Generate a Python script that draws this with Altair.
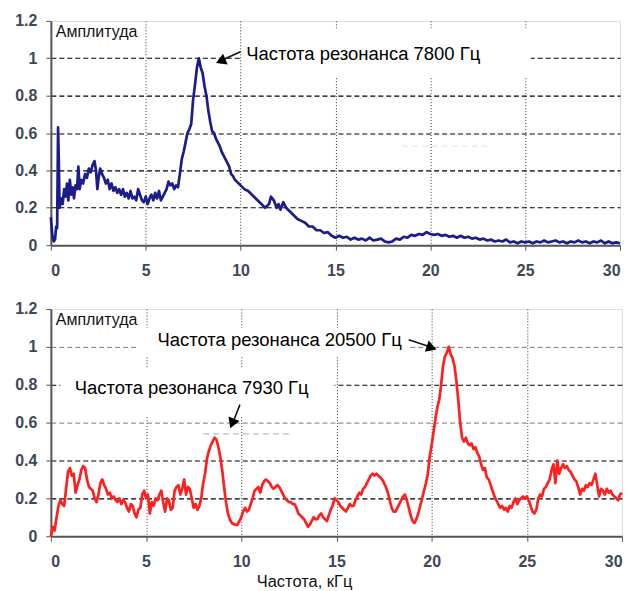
import altair as alt
import pandas as pd

# ---------------- data ----------------
top_x = [0.0, 0.08, 0.15, 0.22, 0.28, 0.33, 0.38, 0.42, 0.46, 0.55, 0.62, 0.7, 0.78, 0.85, 0.92, 1.0, 1.08, 1.15, 1.22, 1.3,
         1.38, 1.45, 1.52, 1.6, 1.7, 1.8, 1.9, 2.0, 2.1, 2.2, 2.3, 2.38, 2.45, 2.52, 2.6, 2.7, 2.8, 2.9, 3.0, 3.1,
         3.2, 3.3, 3.4, 3.5, 3.6, 3.7, 3.8, 3.9, 4.0, 4.1, 4.2, 4.3, 4.4, 4.5, 4.6, 4.7, 4.8, 4.9, 5.0, 5.1,
         5.2, 5.3, 5.4, 5.5, 5.6, 5.7, 5.8, 5.9, 6.0, 6.1, 6.2, 6.3, 6.4, 6.5, 6.6, 6.7, 6.8, 6.9, 7.0, 7.1,
         7.2, 7.3, 7.4, 7.5, 7.6, 7.7, 7.8, 7.9, 8.0, 8.1, 8.2, 8.3, 8.4, 8.5, 8.6, 8.7, 8.8, 8.9, 9.0, 9.1,
         9.2, 9.3, 9.4, 9.5, 9.6, 9.7, 9.8, 9.9, 10.0, 10.2, 10.4, 10.6, 10.8, 11.0, 11.2, 11.3, 11.5, 11.6, 11.75, 11.9,
         12.0, 12.1, 12.25, 12.4, 12.6, 12.8, 13.0, 13.2, 13.4, 13.6, 13.8, 14.0, 14.2, 14.4, 14.6, 14.8, 15.0, 15.2, 15.4, 15.6,
         15.8, 16.0, 16.2, 16.4, 16.6, 16.8, 17.0, 17.2, 17.4, 17.6, 17.8, 18.0, 18.2, 18.4, 18.6, 18.8, 19.0, 19.2, 19.4, 19.6,
         19.8, 20.0, 20.2, 20.4, 20.6, 20.8, 21.0, 21.2, 21.4, 21.6, 21.8, 22.0, 22.2, 22.4, 22.6, 22.8, 23.0, 23.2, 23.4, 23.6,
         23.8, 24.0, 24.2, 24.4, 24.6, 24.8, 25.0, 25.2, 25.4, 25.6, 25.8, 26.0, 26.2, 26.4, 26.6, 26.8, 27.0, 27.2, 27.4, 27.6,
         27.8, 28.0, 28.2, 28.4, 28.6, 28.8, 29.0, 29.2, 29.4, 29.6, 29.8, 30.0]
top_y = [0.15, 0.05, 0.02, 0.03, 0.1, 0.09, 0.63, 0.45, 0.2, 0.25, 0.22, 0.3, 0.26, 0.33, 0.24, 0.35, 0.27, 0.31, 0.25, 0.32,
         0.3, 0.42, 0.3, 0.35, 0.33, 0.38, 0.36, 0.41, 0.39, 0.43, 0.45, 0.4, 0.3, 0.36, 0.41, 0.38, 0.36, 0.33, 0.35, 0.3,
         0.33, 0.29, 0.31, 0.28, 0.3, 0.27, 0.3, 0.26, 0.28, 0.25, 0.29, 0.25, 0.26, 0.24, 0.3, 0.27, 0.24, 0.23, 0.26, 0.22,
         0.25, 0.27, 0.24, 0.28, 0.25, 0.29, 0.24, 0.26, 0.28, 0.3, 0.34, 0.32, 0.33, 0.3, 0.32, 0.31, 0.38, 0.46, 0.5, 0.55,
         0.6, 0.62, 0.65, 0.78, 0.86, 0.95, 1.0, 0.95, 0.92, 0.85, 0.8, 0.72, 0.66, 0.61, 0.6, 0.57, 0.55, 0.53, 0.5, 0.48,
         0.46, 0.44, 0.42, 0.38, 0.37, 0.35, 0.34, 0.33, 0.32, 0.3, 0.29, 0.27, 0.25, 0.23, 0.21, 0.2, 0.22, 0.26, 0.24, 0.2,
         0.22, 0.19, 0.23, 0.2, 0.18, 0.16, 0.14, 0.13, 0.12, 0.1, 0.1, 0.08, 0.08, 0.065, 0.07, 0.05, 0.04, 0.05, 0.04, 0.045,
         0.03, 0.04, 0.03, 0.035, 0.025, 0.04, 0.025, 0.03, 0.035, 0.02, 0.015, 0.02, 0.035, 0.03, 0.045, 0.04, 0.055, 0.05, 0.06, 0.055,
         0.07, 0.06, 0.055, 0.06, 0.05, 0.055, 0.045, 0.05, 0.04, 0.05, 0.04, 0.045, 0.035, 0.04, 0.03, 0.035, 0.025, 0.03, 0.02, 0.025,
         0.02, 0.03, 0.015, 0.02, 0.01, 0.02, 0.015, 0.02, 0.01, 0.02, 0.015, 0.025, 0.015, 0.02, 0.025, 0.015, 0.02, 0.01, 0.02, 0.015,
         0.025, 0.015, 0.02, 0.01, 0.02, 0.015, 0.025, 0.01, 0.02, 0.01, 0.015, 0.01]

bot_x = [round(i * 0.1, 1) for i in range(301)]
bot_y = [0.0, 0.05, 0.03, 0.1, 0.16, 0.19, 0.17, 0.16, 0.25, 0.34, 0.36, 0.32, 0.33, 0.23, 0.27, 0.3, 0.35, 0.37, 0.36, 0.3,
         0.26, 0.25, 0.24, 0.2, 0.18, 0.22, 0.28, 0.3, 0.27, 0.25, 0.22, 0.23, 0.2, 0.21, 0.19, 0.18, 0.2, 0.17, 0.19, 0.18,
         0.15, 0.13, 0.17, 0.16, 0.12, 0.1, 0.14, 0.15, 0.22, 0.24, 0.2, 0.22, 0.12, 0.18, 0.16, 0.2, 0.19, 0.22, 0.24, 0.18,
         0.13, 0.2, 0.19, 0.14, 0.15, 0.24, 0.26, 0.27, 0.22, 0.25, 0.3, 0.22, 0.26, 0.25, 0.2, 0.15, 0.17, 0.14, 0.16, 0.2,
         0.28, 0.33, 0.41, 0.45, 0.48, 0.5, 0.52, 0.51, 0.47, 0.42, 0.35, 0.26, 0.18, 0.12, 0.09, 0.07, 0.065, 0.06, 0.06, 0.08,
         0.1, 0.13, 0.15, 0.13, 0.14, 0.17, 0.2, 0.24, 0.25, 0.26, 0.23, 0.27, 0.29, 0.3, 0.29, 0.28, 0.26, 0.25, 0.26, 0.27,
         0.26, 0.24, 0.22, 0.2, 0.19, 0.18, 0.18, 0.17, 0.17, 0.15, 0.12, 0.11, 0.1, 0.09, 0.07, 0.05, 0.06, 0.08, 0.1, 0.09,
         0.09, 0.11, 0.12, 0.1, 0.09, 0.08, 0.11, 0.14, 0.16, 0.2, 0.19, 0.18, 0.16, 0.15, 0.14, 0.13, 0.15, 0.17, 0.16, 0.16,
         0.19, 0.21, 0.23, 0.22, 0.25, 0.26, 0.28, 0.3, 0.32, 0.33, 0.32, 0.33, 0.32, 0.31, 0.3, 0.28, 0.26, 0.23, 0.19, 0.15,
         0.13, 0.13, 0.15, 0.17, 0.19, 0.21, 0.22, 0.19, 0.15, 0.11, 0.08, 0.07, 0.09, 0.12, 0.16, 0.2, 0.24, 0.28, 0.33, 0.42,
         0.48, 0.55, 0.62, 0.68, 0.72, 0.8, 0.9, 0.95, 0.97, 1.0, 0.96, 0.94, 0.9, 0.82, 0.72, 0.6, 0.52, 0.5, 0.52, 0.49,
         0.48, 0.49, 0.46, 0.47, 0.44, 0.42, 0.38, 0.35, 0.36, 0.31, 0.3, 0.27, 0.24, 0.21, 0.19, 0.17, 0.15, 0.16, 0.14, 0.15,
         0.13, 0.16, 0.15, 0.18, 0.2, 0.17, 0.19, 0.2, 0.21, 0.2, 0.21, 0.19, 0.16, 0.13, 0.12, 0.14, 0.2, 0.22, 0.21, 0.25,
         0.26, 0.28, 0.3, 0.35, 0.38, 0.28, 0.4, 0.33, 0.36, 0.38, 0.36, 0.37, 0.35, 0.34, 0.32, 0.3, 0.29, 0.26, 0.22, 0.25,
         0.24, 0.27, 0.26, 0.28, 0.27, 0.3, 0.33, 0.27, 0.21, 0.25, 0.24, 0.22, 0.25, 0.23, 0.24, 0.22, 0.21, 0.2, 0.19, 0.22,
         0.23]

y_ticks = [0, 0.2, 0.4, 0.6, 0.8, 1.0, 1.2]
x_ticks = [0, 5, 10, 15, 20, 25, 30]

y_label = "Амплитуда"
x_title = "Частота, кГц"

# annotations (data coordinates)
top_notes = pd.DataFrame({"x": [10.3], "y": [1.025], "t": ["Частота резонанса 7800 Гц"]})
top_boxes = pd.DataFrame({"x": [10.1], "x2": [25.3], "y": [0.9], "y2": [1.16]})
top_arrow = pd.DataFrame({"x": [10.0], "y": [1.035], "x2": [9.0], "y2": [0.99]})
top_head = pd.DataFrame({"x": [8.95], "y": [0.985], "a": [247]})
top_faint = pd.DataFrame({"x": [18.5], "x2": [23.2], "y": [0.53]})

bot_notes = pd.DataFrame({"x": [5.6, 1.25], "y": [1.037, 0.784],
                          "t": ["Частота резонанса 20500 Гц", "Частота резонанса 7930 Гц"]})
bot_boxes = pd.DataFrame({"x": [4.6, 0.5], "x2": [18.7, 14.9], "y": [0.95, 0.63], "y2": [1.1, 0.89]})
bot_arrow = pd.DataFrame({"x": [18.8, 9.93], "y": [1.037, 0.695], "x2": [19.9, 9.6], "y2": [1.0, 0.61]})
bot_head = pd.DataFrame({"x": [20.0, 9.52], "y": [0.995, 0.595], "a": [109, 202]})
bot_faint = pd.DataFrame({"x": [8.0], "x2": [12.6], "y": [0.54]})

FONT = "Liberation Sans"


def panel(xs, ys, color, boxes, notes, arrow, head, faint, faint_color, w, h, show_title, light_test):
    df = pd.DataFrame({"x": xs, "y": ys})
    xscale = alt.Scale(domain=[0, 30], nice=False, zero=False)
    yscale = alt.Scale(domain=[0, 1.2], nice=False)
    xaxis = alt.Axis(
        values=x_ticks, format="~g", title=x_title if show_title else None, labelOverlap=False,
        grid=True, gridDash=[1, 2], gridColor="#333", gridWidth=1,
        gridOpacity={"condition": {"test": "datum.value == 0 || datum.value == 30", "value": 0}, "value": 1},
        labelPadding=12, labelFontSize=16, labelFontWeight="bold", labelColor="#3e4756",
        labelFont=FONT, tickSize=5, tickColor="#555", domainColor="#555", domainWidth=2,
        titleFont=FONT, titleFontSize=16.5, titleFontWeight="normal", titleColor="#111",
        titleX=254, titleY=50, titleBaseline="alphabetic", titleAlign="center",
    )
    yaxis = alt.Axis(
        values=y_ticks, format="~g", title=None, labelOverlap=False,
        grid=True, gridDash=[5, 3],
        gridColor={"condition": {"test": light_test, "value": "#555"}, "value": "#000"},
        gridWidth={"condition": {"test": light_test, "value": 0.8}, "value": 1.1},
        gridOpacity={"condition": {"test": "datum.value == 0 || datum.value > 1.1", "value": 0}, "value": 1},
        labelPadding=9, labelFontSize=16, labelFontWeight="bold", labelColor="#3e4756",
        labelFont=FONT, tickSize=5, tickColor="#555", domainColor="#555", domainWidth=2,
        minExtent=42, maxExtent=42,
    )

    def X(f="x:Q"):
        return alt.X(f, scale=xscale, axis=xaxis)

    def Y(f="y:Q"):
        return alt.Y(f, scale=yscale, axis=yaxis)

    box_layer = alt.Chart(boxes).mark_rect(color="white").encode(x=X(), x2="x2", y=Y(), y2="y2")
    faint_layer = alt.Chart(faint).mark_rule(color=faint_color, strokeDash=[6, 4], strokeWidth=1.2).encode(
        x=X(), x2="x2", y=Y())
    line = alt.Chart(df).mark_line(color=color, strokeWidth=2.7, strokeJoin="round").encode(x=X(), y=Y())
    arr = alt.Chart(arrow).mark_rule(color="#111", strokeWidth=1.6).encode(x=X(), x2="x2", y=Y(), y2="y2")
    hd = alt.Chart(head).mark_point(shape="triangle-up", filled=True, color="#000", size=140, opacity=1).encode(
        x=X(), y=Y(), angle=alt.Angle("a:Q", scale=None))
    txt = alt.Chart(notes).mark_text(align="left", baseline="middle", font=FONT, fontSize=18.5, color="#000").encode(
        x=X(), y=Y(), text="t:N")
    amp = alt.Chart(pd.DataFrame({"t": [y_label]})).mark_text(
        align="left", baseline="top", font=FONT, fontSize=16, color="#111").encode(
        x=alt.value(5), y=alt.value(3), text="t:N")
    return alt.layer(box_layer, faint_layer, line, arr, hd, txt, amp).properties(width=w, height=h)


top = panel(top_x, top_y, "#1c1c8a", top_boxes, top_notes, top_arrow, top_head, top_faint, "#e6e6e6",
            571, 225, False, "false")
bottom = panel(bot_x, bot_y, "#ff1f1f", bot_boxes, bot_notes, bot_arrow, bot_head, bot_faint, "#bbbbbb",
               573, 228, True, "datum.value == 1 || datum.value == 0.6")

chart = alt.vconcat(top, bottom, spacing=21).properties(
    padding={"left": 0, "top": 3, "right": 0, "bottom": 0}
).configure_view(stroke="#8c8c8c", strokeWidth=2).configure(background="white")

chart.save("out.html", embed_options={"renderer": "svg", "actions": False})
